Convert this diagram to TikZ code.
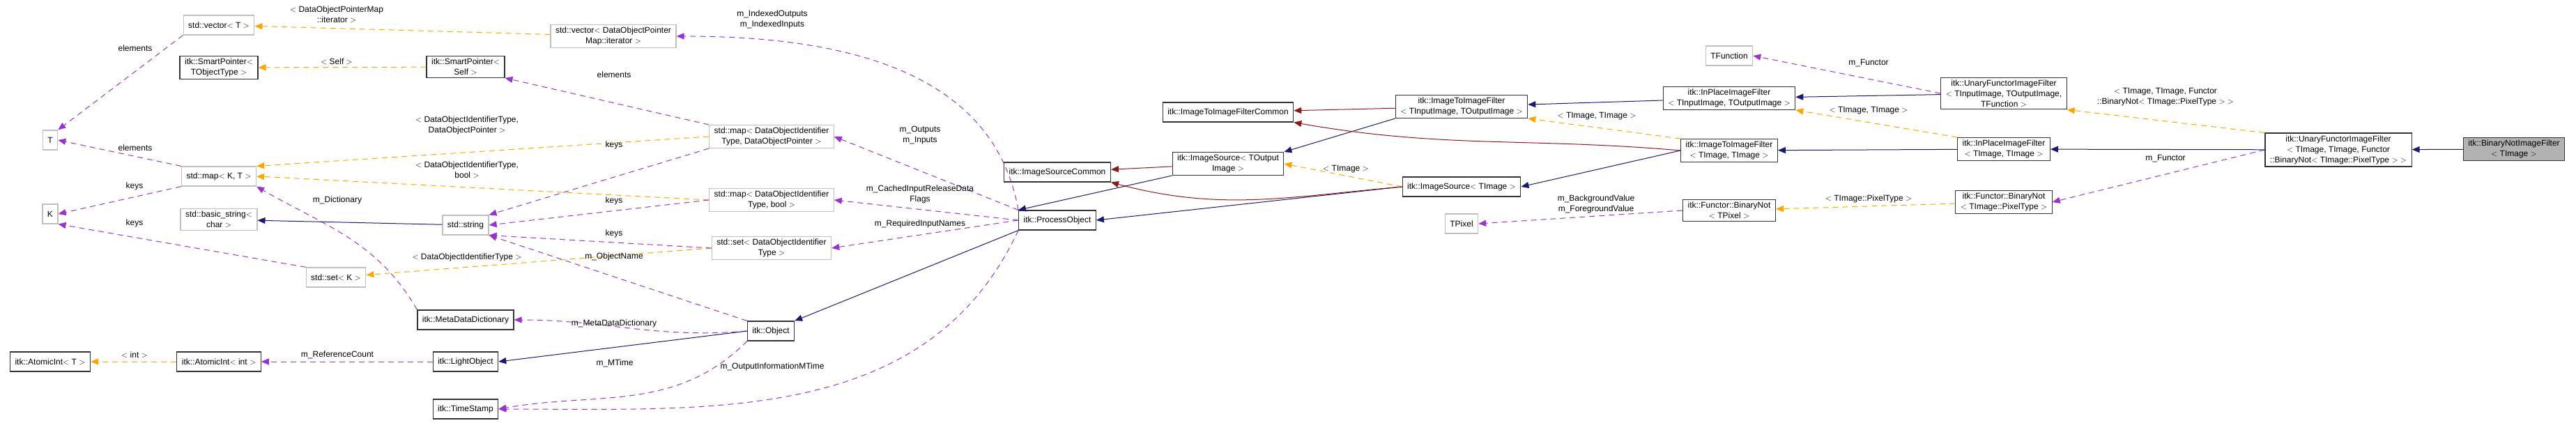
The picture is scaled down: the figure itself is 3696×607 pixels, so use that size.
\documentclass[tikz,border=0pt]{standalone}
\usepackage{fontspec}
\setmainfont{Liberation Sans}
\usetikzlibrary{arrows.meta}
\definecolor{inhblue}{HTML}{191970}
\definecolor{inhred}{HTML}{8B1A1A}
\definecolor{tmplorange}{HTML}{FFA500}
\definecolor{usepurple}{HTML}{9A32CD}

\begin{document}
\begin{tikzpicture}[x=1pt,y=-1pt,
  font=\fontsize{12}{15}\selectfont,
  cls/.style={draw=black!80,line width=1.2pt,fill=white,align=center,minimum height=28pt,inner xsep=7pt},
  ext/.style={cls,draw=black!25},
  hl/.style={cls,fill=black!30},
  base/.style={-{Triangle[length=11pt,width=9pt]},line width=1pt,draw=inhblue},
  priv/.style={base,draw=inhred},
  tmpl/.style={base,draw=tmplorange,dash pattern=on 8pt off 6pt},
  uses/.style={base,draw=usepurple,dash pattern=on 8pt off 6pt},
  lbl/.style={align=center,inner sep=1pt}]
\useasboundingbox (0,0) rectangle (3696,607);
% left column
\node[ext] (vecT) at (314,36) {std::vector$<$ T $>$};
\node[cls] (spT) at (314,97) {itk::SmartPointer$<$\\TObjectType $>$};
\node[ext] (T) at (72,201) {T};
\node[ext] (mapKT) at (314,253) {std::map$<$ K, T $>$};
\node[ext] (K) at (72,307) {K};
\node[ext] (bstr) at (314,315) {std::basic\_string$<$\\char $>$};
\node[ext] (setK) at (482,398) {std::set$<$ K $>$};
\node[cls] (aiT) at (72,519) {itk::AtomicInt$<$ T $>$};
\node[cls] (aiInt) at (314,519) {itk::AtomicInt$<$ int $>$};
% second column
\node[cls] (spSelf) at (668,96) {itk::SmartPointer$<$\\Self $>$};
\node[ext] (str) at (668,323) {std::string};
\node[cls] (mdd) at (668,459) {itk::MetaDataDictionary};
\node[cls] (light) at (668,519) {itk::LightObject};
\node[cls] (stamp) at (668,587) {itk::TimeStamp};
% containers of the process object
\node[ext] (vecIt) at (880,52) {std::vector$<$ DataObjectPointer\\Map::iterator $>$};
\node[ext] (mapPtr) at (1107,196) {std::map$<$ DataObjectIdentifier\\Type, DataObjectPointer $>$};
\node[ext] (mapBool) at (1107,287) {std::map$<$ DataObjectIdentifier\\Type, bool $>$};
\node[ext] (setId) at (1107,356) {std::set$<$ DataObjectIdentifier\\Type $>$};
\node[cls] (obj) at (1106,475) {itk::Object};
\node[cls] (proc) at (1517,316) {itk::ProcessObject};
% sources and filters
\node[cls] (srcCom) at (1517,247) {itk::ImageSourceCommon};
\node[cls] (fltCom) at (1762,161) {itk::ImageToImageFilterCommon};
\node[cls] (srcOut) at (1762,235) {itk::ImageSource$<$ TOutput\\Image $>$};
\node[cls] (fltIO) at (2097,153) {itk::ImageToImageFilter\\$<$ TInputImage, TOutputImage $>$};
\node[cls] (srcImg) at (2097,268) {itk::ImageSource$<$ TImage $>$};
\node[ext] (pix) at (2097,321) {TPixel};
\node[ext] (func) at (2481,80) {TFunction};
\node[cls] (inpIO) at (2481,141) {itk::InPlaceImageFilter\\$<$ TInputImage, TOutputImage $>$};
\node[cls] (fltII) at (2481,216) {itk::ImageToImageFilter\\$<$ TImage, TImage $>$};
\node[cls] (notPix) at (2481,302) {itk::Functor::BinaryNot\\$<$ TPixel $>$};
\node[cls] (unIO) at (2875,134) {itk::UnaryFunctorImageFilter\\$<$ TInputImage, TOutputImage,\\TFunction $>$};
\node[cls] (inpII) at (2875,214) {itk::InPlaceImageFilter\\$<$ TImage, TImage $>$};
\node[cls] (notImg) at (2875,290) {itk::Functor::BinaryNot\\$<$ TImage::PixelType $>$};
\node[cls] (unII) at (3355,215) {itk::UnaryFunctorImageFilter\\$<$ TImage, TImage, Functor\\::BinaryNot$<$ TImage::PixelType $>$ $>$};
\node[hl] (bnot) at (3607,214) {itk::BinaryNotImageFilter\\$<$ TImage $>$};

% template instances
\draw[tmpl] (vecIt) -- (vecT);
\draw[tmpl] (spSelf) -- (spT);
\draw[tmpl] (mapPtr.west) -- (mapKT.north east);
\draw[tmpl] (mapBool.west) -- (mapKT.east);
\draw[tmpl] (setId.west) -- (setK);
\draw[tmpl] (aiInt) -- (aiT);
\draw[tmpl] (srcImg.west) -- (srcOut.east);
\draw[tmpl] (fltII.north west) -- (fltIO.south east);
\draw[tmpl] (inpII.north west) -- (inpIO.south east);
\draw[tmpl] (unII.north west) -- (unIO.south east);
\draw[tmpl] (notImg) -- (notPix);
\node[lbl] (l1) at (483,21) {$<$ DataObjectPointerMap\\::iterator $>$};
\node[lbl] (l2) at (483,88) {$<$ Self $>$};
\node[lbl] (l3) at (670,180) {$<$ DataObjectIdentifierType,\\DataObjectPointer $>$};
\node[lbl] (l4) at (670,244) {$<$ DataObjectIdentifierType,\\bool $>$};
\node[lbl] (l5) at (670,369) {$<$ DataObjectIdentifierType $>$};
\node[lbl] (l6) at (193,509) {$<$ int $>$};
\node[lbl] (l7) at (1931,243) {$<$ TImage $>$};
\node[lbl] (l8) at (2291,167) {$<$ TImage, TImage $>$};
\node[lbl] (l9) at (2681,159) {$<$ TImage, TImage $>$};
\node[lbl] (l10) at (3107,139) {$<$ TImage, TImage, Functor\\::BinaryNot$<$ TImage::PixelType $>$ $>$};
\node[lbl] (l11) at (2681,285) {$<$ TImage::PixelType $>$};

% members
\draw[uses] (vecT.south west) -- (T.north east);
\draw[uses] (mapKT.north west) -- (T.east);
\draw[uses] (mapKT.south west) -- (K.east);
\draw[uses] (setK.north west) -- (K.south east);
\draw[uses] (mdd.north west) to[out=120,in=-30] (mapKT.south east);
\draw[uses] (light) -- (aiInt);
\draw[uses] (mapPtr.north west) -- (spSelf.south east);
\draw[uses] (mapPtr.south west) -- (str.north east);
\draw[uses] (mapBool.west) -- (str.east);
\draw[uses] (setId.west) -- (str.south east);
\draw[uses] (obj.north west) -- (str.south east);
\draw[uses] (obj.west) to[out=185,in=0] (mdd.east);
\draw[uses] (obj.south west) to[out=225,in=10] (stamp.east);
\draw[uses] (proc.south west) to[out=245,in=0] (stamp.east);
\draw[uses] (proc.north west) to[out=100,in=0] (vecIt.east);
\draw[uses] (proc.north west) -- (mapPtr.east);
\draw[uses] (proc.west) -- (mapBool.east);
\draw[uses] (proc.west) -- (setId.east);
\draw[uses] (notPix.west) -- (pix.east);
\draw[uses] (unIO.west) -- (func.east);
\draw[uses] (unII.west) -- (notImg.east);
\node[lbl] (m1) at (194,69) {elements};
\node[lbl] (m2) at (194,212) {elements};
\node[lbl] (m3) at (193,267) {keys};
\node[lbl] (m4) at (193,320) {keys};
\node[lbl] (m5) at (484,287) {m\_Dictionary};
\node[lbl] (m6) at (484,509) {m\_ReferenceCount};
\node[lbl] (m7) at (881,107) {elements};
\node[lbl] (m8) at (881,208) {keys};
\node[lbl] (m9) at (881,288) {keys};
\node[lbl] (m10) at (881,335) {keys};
\node[lbl] (m11) at (881,368) {m\_ObjectName};
\node[lbl] (m12) at (881,464) {m\_MetaDataDictionary};
\node[lbl] (m13) at (882,521) {m\_MTime};
\node[lbl] (m14) at (1108,526) {m\_OutputInformationMTime};
\node[lbl] (m15) at (1108,28) {m\_IndexedOutputs\\m\_IndexedInputs};
\node[lbl] (m16) at (1320,194) {m\_Outputs\\m\_Inputs};
\node[lbl] (m17) at (1320,279) {m\_CachedInputReleaseData\\Flags};
\node[lbl] (m18) at (1320,321) {m\_RequiredInputNames};
\node[lbl] (m19) at (2290,293) {m\_BackgroundValue\\m\_ForegroundValue};
\node[lbl] (m20) at (2681,91) {m\_Functor};
\node[lbl] (m21) at (3107,228) {m\_Functor};

% inheritance
\draw[base] (str) -- (bstr);
\draw[base] (obj.west) -- (light.east);
\draw[base] (proc.south west) -- (obj.north east);
\draw[base] (srcOut.south west) -- (proc.north west);
\draw[base] (srcImg.west) -- (proc.east);
\draw[base] (fltIO.south west) -- (srcOut.north east);
\draw[base] (fltII.west) -- (srcImg.east);
\draw[base] (inpIO) -- (fltIO);
\draw[base] (inpII) -- (fltII);
\draw[base] (unIO) -- (inpIO);
\draw[base] (unII) -- (inpII);
\draw[base] (bnot) -- (unII);
\draw[priv] (srcOut) -- (srcCom);
\draw[priv] (srcImg.west) to[out=185,in=-15] (srcCom.south east);
\draw[priv] (fltIO) -- (fltCom);
\draw[priv] (fltII.west) to[out=175,in=-10] (fltCom.south east);
\end{tikzpicture}
\end{document}
